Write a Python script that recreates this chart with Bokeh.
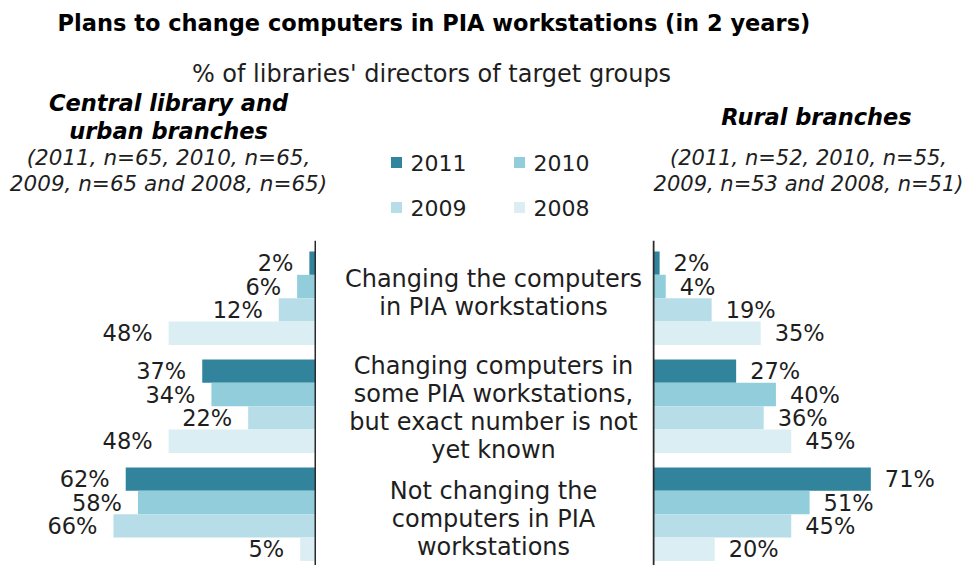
from bokeh.plotting import figure
from bokeh.layouts import column, row
from bokeh.models import Range1d, Span, ColumnDataSource
from bokeh.core.properties import value
from bokeh.embed import file_html
from bokeh.resources import INLINE

# ---------------- data ----------------
title = "Plans to change computers in PIA workstations (in 2 years)"
subtitle = "% of libraries' directors of target groups"
left_title = ["Central library and", "urban branches"]
left_note = ["(2011, n=65, 2010, n=65,", "2009, n=65 and 2008, n=65)"]
right_title = ["Rural branches"]
right_note = ["(2011, n=52, 2010, n=55,", "2009, n=53 and 2008, n=51)"]

categories = [
    ["Changing the computers", "in PIA workstations"],
    ["Changing computers in", "some PIA workstations,", "but exact number is not", "yet known"],
    ["Not changing the", "computers in PIA", "workstations"],
]
years = ["2011", "2010", "2009", "2008"]
colors = ["#31849B", "#92CDDC", "#B7DEE8", "#DAEEF3"]

central = {
    "2011": [2, 37, 62],
    "2010": [6, 34, 58],
    "2009": [12, 22, 66],
    "2008": [48, 48, 5],
}
rural = {
    "2011": [2, 27, 71],
    "2010": [4, 40, 51],
    "2009": [19, 36, 45],
    "2008": [35, 45, 20],
}

# ---------------- layout ----------------
FONT = "DejaVu Sans"
TXT = "#1e1e1e"
W = 968
H_HEAD = 240
H_BARS = 325
W_L, W_M, W_R = 316, 336, 316
PX_PER_PCT = 3.061
PITCH = 108.0          # px per group
BAR_H = 0.2162         # in group units
Y_END = 2 * BAR_H + 11 / PITCH
Y_START = Y_END - H_BARS / PITCH


def make_fig(w, h, xr, yr):
    p = figure(width=w, height=h, x_range=xr, y_range=yr,
               x_axis_type=None, y_axis_type=None,
               toolbar_location=None, output_backend="svg",
               min_border=0, outline_line_color=None,
               background_fill_color="white", border_fill_color="white")
    p.grid.grid_line_color = None
    return p


def txt(p, x, y, s, size="22px", align="center", style="normal", color=TXT):
    p.text(x=[x], y=[y], text=[s], text_font=value(FONT), text_font_size=size,
           text_font_style=style, text_align=align, text_baseline="middle",
           text_color=color)


# header
head = make_fig(W, H_HEAD, Range1d(0, W), Range1d(H_HEAD, 0))
txt(head, 57, 22, title, size="22.5px", align="left", style="bold", color="black")
txt(head, 431, 73, subtitle, size="24px")
for k, s in enumerate(left_title):
    txt(head, 168, 102 + 28 * k, s, size="22.5px", style="bold italic", color="black")
for k, s in enumerate(left_note):
    txt(head, 168, 157 + 26 * k, s, size="21.5px", style="italic")
for k, s in enumerate(right_title):
    txt(head, 816, 116 + 28 * k, s, size="22.5px", style="bold italic", color="black")
for k, s in enumerate(right_note):
    txt(head, 808, 157 + 26 * k, s, size="21px", style="italic")

leg_x = [396, 519, 396, 519]
leg_y = [162, 162, 207, 207]
head.scatter(x=leg_x, y=leg_y, marker="square", size=11, fill_color=colors, line_color=None)
head.text(x=[x + 14 for x in leg_x], y=leg_y, text=years, text_font=value(FONT),
          text_font_size="22px", text_align="left", text_baseline="middle", text_color=TXT)

# bar panels
yr_l = Range1d(Y_START, Y_END)
left = make_fig(W_L, H_BARS, Range1d((W_L - 1) / PX_PER_PCT, -1 / PX_PER_PCT), yr_l)
mid = make_fig(W_M, H_BARS, Range1d(0, W_M), yr_l)
right = make_fig(W_R, H_BARS, Range1d(-1 / PX_PER_PCT, (W_R - 1) / PX_PER_PCT), yr_l)

for p, data, off, align in ((left, central, -16, "right"), (right, rural, 14, "left")):
    for j, (yr, col) in enumerate(zip(years, colors)):
        vals = data[yr]
        ys = [-i + (1.5 - j) * BAR_H for i in range(len(vals))]
        src = ColumnDataSource(dict(y=ys, v=vals, lab=[f"{v}%" for v in vals]))
        p.hbar(y="y", left=0, right="v", height=BAR_H, fill_color=col,
               line_color=None, source=src)
        p.text(x="v", y="y", text="lab", x_offset=off, text_align=align,
               text_baseline="middle", text_font=value(FONT), text_font_size="22.5px",
               text_color=TXT, source=src)
    p.add_layout(Span(location=0, dimension="height", line_color="#2a2a2a", line_width=2))

shifts = [-5, 2, 5]
for i, lines in enumerate(categories):
    n = len(lines)
    for k, s in enumerate(lines):
        off_px = (k - (n - 1) / 2) * 28 + shifts[i]
        txt(mid, 177, -i - off_px / PITCH, s, size="24px")

layout = column(head, row(left, mid, right))
open("out.html", "w").write(file_html(layout, INLINE))
